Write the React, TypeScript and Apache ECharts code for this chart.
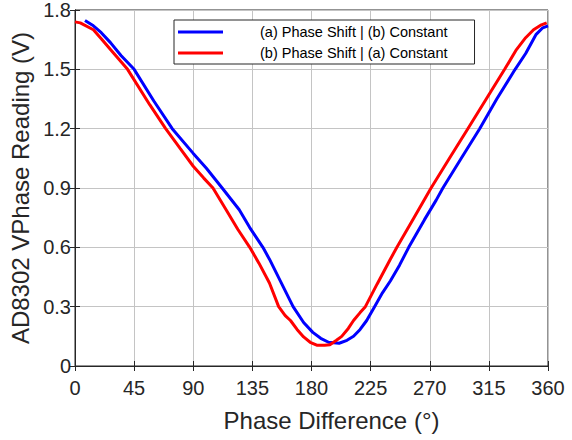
import React, { useEffect, useRef } from "react";
import * as echarts from "echarts";

const xTicks = [0, 45, 90, 135, 180, 225, 270, 315, 360];
const yTicks = [0, 0.3, 0.6, 0.9, 1.2, 1.5, 1.8];

const seriesNames = ["(a) Phase Shift | (b) Constant", "(b) Phase Shift | (a) Constant"];

const phaseA = [7.6, 14, 20, 27, 35, 45, 60, 74, 90, 100, 112, 125, 133, 143, 148, 157, 166, 174, 181, 187, 193, 201, 207, 212, 217, 222, 228, 234, 240, 247, 254, 266, 275, 280, 294, 308, 321, 335, 343, 351, 356, 360];
const voltA = [1.747, 1.72, 1.685, 1.635, 1.57, 1.5, 1.34, 1.2, 1.075, 1.0, 0.9, 0.79, 0.7, 0.6, 0.54, 0.42, 0.3, 0.22, 0.17, 0.14, 0.12, 0.115, 0.13, 0.15, 0.185, 0.23, 0.3, 0.37, 0.43, 0.51, 0.6, 0.74, 0.84, 0.9, 1.05, 1.2, 1.35, 1.5, 1.58, 1.677, 1.71, 1.72];

const phaseB = [0, 4, 14, 20, 27, 40, 57, 69, 80, 90, 98, 105, 115, 124, 133, 140, 148, 155, 160, 164, 169, 174, 179, 184, 190, 194, 199, 203, 208, 212, 217, 221, 230, 240, 245, 258, 271, 285, 299, 313, 327, 336, 343, 349, 355, 359];
const voltB = [1.74, 1.735, 1.7, 1.655, 1.6, 1.5, 1.32, 1.2, 1.1, 1.01, 0.95, 0.9, 0.79, 0.69, 0.6, 0.52, 0.42, 0.3, 0.255, 0.23, 0.185, 0.147, 0.12, 0.105, 0.105, 0.108, 0.13, 0.15, 0.19, 0.23, 0.27, 0.3, 0.415, 0.54, 0.6, 0.75, 0.9, 1.05, 1.2, 1.35, 1.5, 1.6, 1.66, 1.7, 1.725, 1.735];

const FONT = "Liberation Sans, Arial, sans-serif";
const AXIS = "#262626";
const GRID = "#c4c4c4";

export default function App() {
  const ref = useRef<HTMLDivElement>(null);
  useEffect(() => {
    if (!ref.current) return;
    const chart = echarts.init(ref.current, undefined, { renderer: "svg" });
    const pairs = (xs: number[], ys: number[]) => xs.map((x, i) => [x, ys[i]]);
    chart.setOption({
      animation: false,
      backgroundColor: "#ffffff",
      textStyle: { fontFamily: FONT },
      grid: { left: 75, right: 24, top: 7, bottom: 74, show: true, borderColor: AXIS, borderWidth: 1 },
      legend: {
        data: seriesNames,
        orient: "vertical",
        left: 174,
        top: 20,
        backgroundColor: "#ffffff",
        borderColor: AXIS,
        borderWidth: 1,
        borderRadius: 0,
        padding: [4, 27, 3, 4],
        itemGap: 5,
        itemWidth: 45,
        itemHeight: 3,
        icon: "rect",
        textStyle: { fontFamily: FONT, fontSize: 14.5, color: "#000", lineHeight: 16, padding: [0, 0, 0, 32] },
      },
      xAxis: [
        {
          type: "value",
          min: 0,
          max: 360,
          interval: 45,
          name: "Phase Difference (°)",
          nameLocation: "middle",
          nameGap: 42,
          nameTextStyle: { fontFamily: FONT, fontSize: 24, color: AXIS, padding: [0, 0, 0, 40] },
          axisLine: { show: true, lineStyle: { color: AXIS, width: 1 } },
          axisTick: { show: true, inside: true, length: 5, lineStyle: { color: AXIS } },
          axisLabel: { fontFamily: FONT, fontSize: 20, color: AXIS, margin: 12, customValues: xTicks },
          splitLine: { show: true, lineStyle: { color: GRID, width: 1 } },
        },
        {
          type: "value",
          position: "top",
          min: 0,
          max: 360,
          interval: 45,
          axisLine: { show: true, lineStyle: { color: AXIS } },
          axisTick: { show: true, inside: true, length: 5, lineStyle: { color: AXIS } },
          axisLabel: { show: false },
          splitLine: { show: false },
        },
      ],
      yAxis: [
        {
          type: "value",
          min: 0,
          max: 1.8,
          interval: 0.3,
          name: "AD8302 VPhase Reading (V)",
          nameLocation: "middle",
          nameGap: 40,
          nameTextStyle: { fontFamily: FONT, fontSize: 24, color: AXIS },
          axisLine: { show: true, lineStyle: { color: AXIS } },
          axisTick: { show: true, inside: true, length: 5, lineStyle: { color: AXIS } },
          axisLabel: {
            fontFamily: FONT,
            fontSize: 20,
            color: AXIS,
            margin: 4,
            formatter: (v: number) => {
              const t = yTicks.find((k) => Math.abs(k - v) < 1e-6);
              return t === 0 ? "0" : String(t !== undefined ? t : v);
            },
          },
          splitLine: { show: true, lineStyle: { color: GRID, width: 1 } },
        },
        {
          type: "value",
          position: "right",
          min: 0,
          max: 1.8,
          interval: 0.3,
          axisLine: { show: true, lineStyle: { color: AXIS } },
          axisTick: { show: true, inside: true, length: 5, lineStyle: { color: AXIS } },
          axisLabel: { show: false },
          splitLine: { show: false },
        },
      ],
      series: [
        {
          name: seriesNames[0],
          type: "line",
          data: pairs(phaseA, voltA),
          showSymbol: false,
          symbol: "none",
          color: "#0000ff",
          lineStyle: { color: "#0000ff", width: 3 },
        },
        {
          name: seriesNames[1],
          type: "line",
          data: pairs(phaseB, voltB),
          showSymbol: false,
          symbol: "none",
          color: "#ff0000",
          lineStyle: { color: "#ff0000", width: 3 },
        },
      ],
    });
    return () => chart.dispose();
  }, []);
  return <div ref={ref} style={{ width: 572, height: 440, position: "absolute", left: 0, top: 0 }} />;
}
